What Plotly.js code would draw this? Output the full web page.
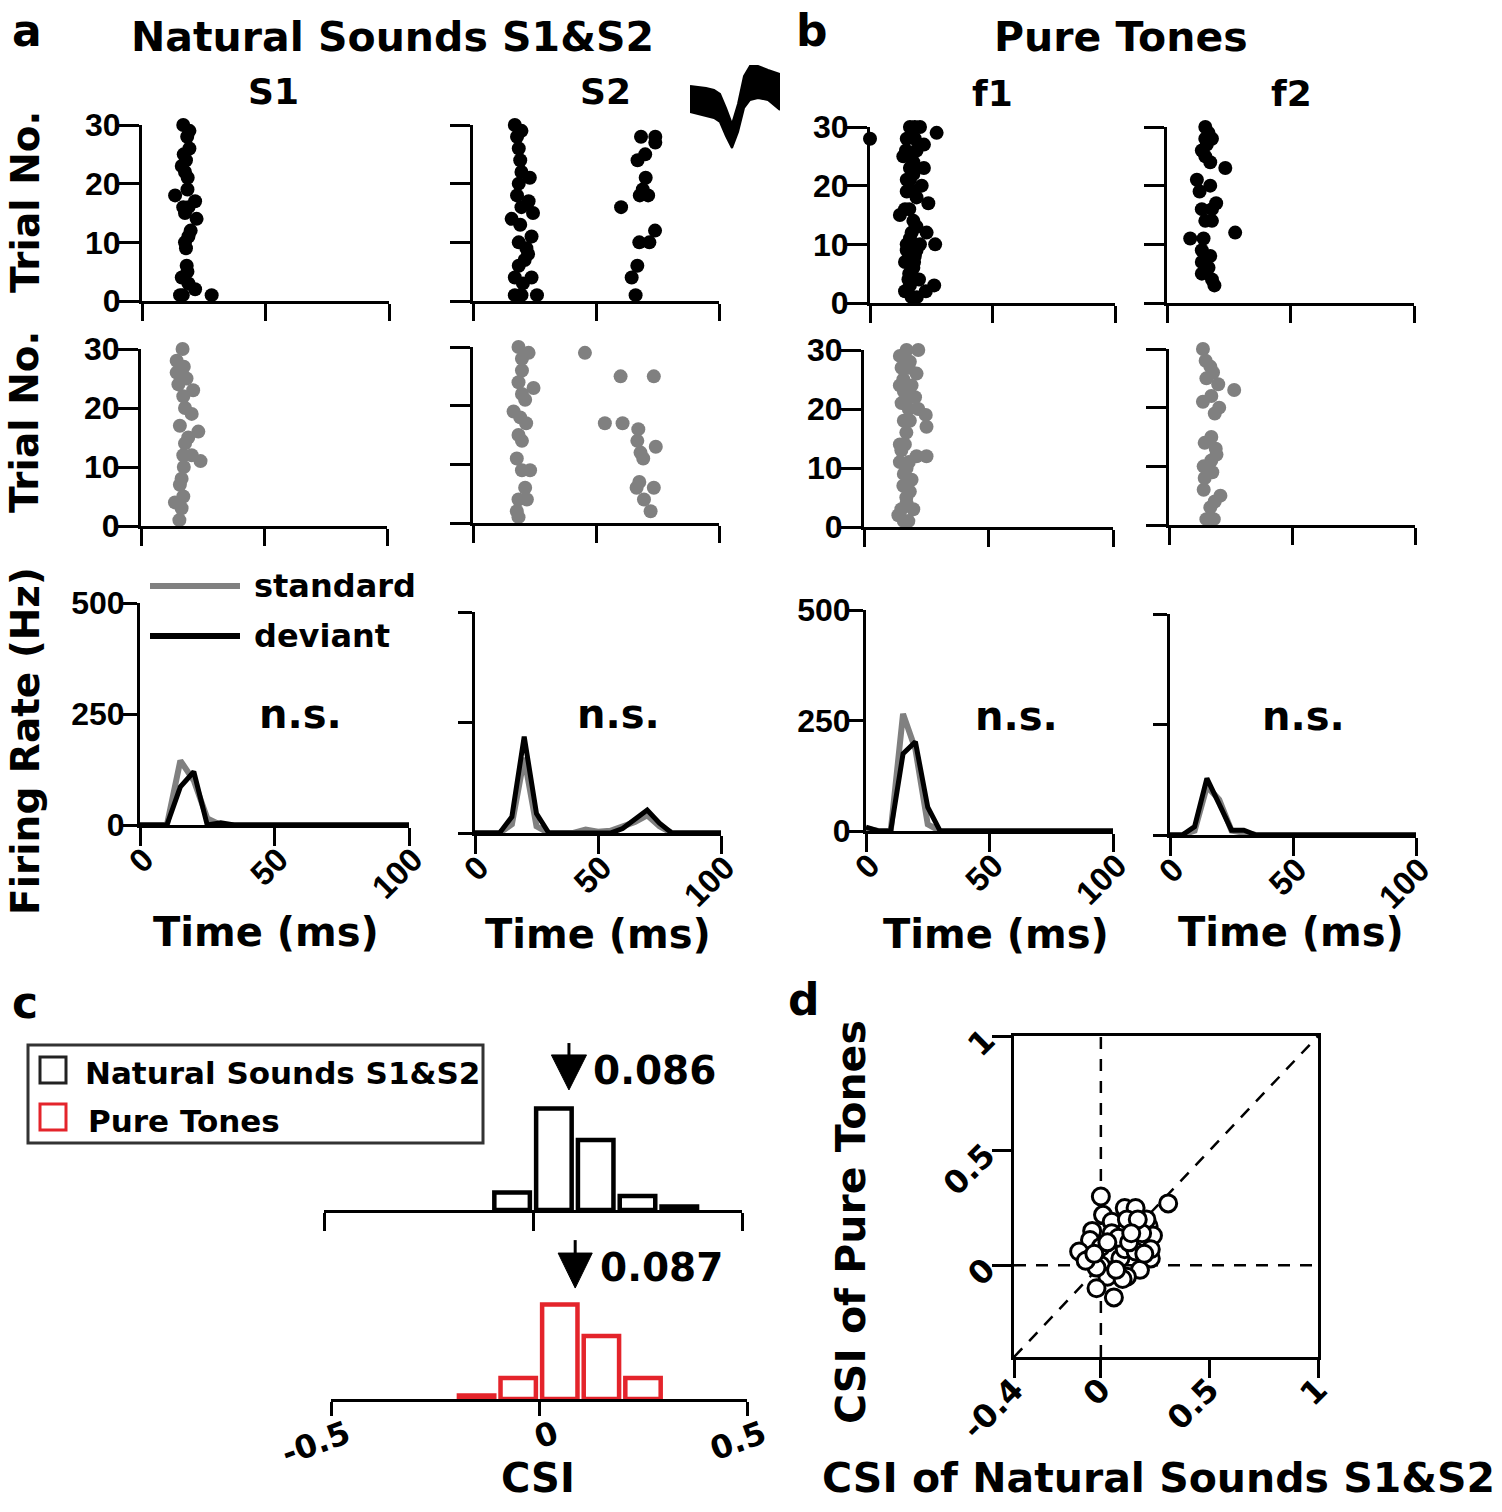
<!DOCTYPE html>
<html><head><meta charset="utf-8">
<script src="https://cdn.plot.ly/plotly-3.0.1.min.js"></script>
<style>html,body{margin:0;padding:0;background:#fff;}#chart{width:1502px;height:1512px;}</style>
</head><body><div id="chart"></div>
<script>
// ---------------- DATA ----------------
// Raster: spike times (ms) and trial numbers. Deviant (black) rows and standard (gray) rows.
const s1DevTime  = [16.7,19.2,18.3,19.2,16.9,17.8,16.1,17.4,18.5,18.4,13.4,21.5,16.7,18.8,17.4,22.1,19.7,18.8,17.4,17.8,18.1,18.4,16.1,18.8,21.5,16.5,28.2,15.4];
const s1DevTrial = [30,29,28,26,25,24,23,22,21,19,18,17,16,16,15,14,12,11,10,9,6,5,4,3,2,1,1,1];
const s2DevTime  = [17,19.7,17.9,18.6,19.2,19.7,23.1,18.6,17.9,22.6,19.7,24.4,15.7,19.2,23.8,18.6,21.7,22.4,18.6,21,17,23.8,20.3,17,19.7,26,68.3,74.1,74.1,70,66.9,70.2,69,67.8,71.2,60.2,74,67.6,71.7,66.8,64.5,66.1];
const s2DevTrial = [30,29,28,26,24,22,21,20,18,17,16,15,14,13,11,10,9,8,6,7,4,4,3,1,1,1,28,28,27,25,24,21,19,18,18,16,12,10,10,6,4,1];
const f1DevTime  = [0,16.3,20.4,18.3,27.2,15,18.3,22,14.7,16.3,13.6,17.7,22,16.3,17.7,21.1,16.3,15,23.8,19,14.3,12.2,17.7,23.1,16.3,26.6,20.4,15,18.3,14.3,17.7,15.7,26.2,22.8,14.3,19.1,16.3,19,17,19,15,18,16,19,17,15,18,16,20,17];
const f1DevTrial = [28,30,30,30,29,28,28,27,26,25,25,24,23,23,22,20,21,19,17,18,16,15,14,12,11,10,10,9,8,7,6,4,3,2,2,1,3,9,29,26,21,19,16,13,12,10,7,5,4,1];
const f2DevTime  = [15.5,16.8,15.5,18.2,16.1,14.1,15.5,17.5,23.6,12.1,17.5,13.2,19.9,14.1,18.2,15.5,18.2,9.4,14.8,27.6,14.1,17.5,14.1,16.8,14.1,18.2,19.2];
const f2DevTrial = [30,29,28,28,27,26,25,24,23,21,20,19,17,16,16,14,14,11,11,12,9,8,7,6,5,4,3];
const s1StdTime  = [16.9,14.5,17.4,14.5,18.5,15.2,21.2,17.2,17.9,20.6,15.8,23.3,19.2,17.9,17.2,20.6,24.2,17.4,16.5,15.8,17.2,13.8,16.5,15.6];
const s1StdTrial = [30,28,27,26,25,24,23,22,20,19,17,16,15,14,12,12,11,10,8,7,5,4,3,1];
const s2StdTime  = [18.5,22.6,19.9,19.9,18.5,24.6,19.9,21.2,16.5,19.2,21.6,18.5,19.9,17.8,23.2,19.9,21.2,18.5,21.9,17.8,18.5,45.5,60,73.5,53.6,60.8,67.2,66.8,74.3,68.1,69.2,67.6,66.5,73.5,69.5,72.2];
const s2StdTrial = [30,29,28,26,24,23,22,21,19,18,17,15,14,11,9,9,6,4,4,2,1,29,25,25,17,17,16,14,13,12,11,7,6,6,4,2];
const f1StdTime  = [14.4,17.1,21.8,18.4,15.1,21.1,15.8,19.1,14.4,17.8,20.5,15.1,21.8,24.8,25.1,18.4,16.4,14.4,25.1,21.1,14.4,17.1,19.1,15.8,18.4,17.1,19.8,13.8,17.8,16,18,16,18,16,17,15,18,16,17,15,16];
const f1StdTrial = [29,30,30,28,27,26,25,24,24,22,22,21,20,19,17,18,14,14,12,12,11,10,8,7,6,4,3,2,1,29,27,23,20,18,16,13,11,9,5,3,1];
const f2StdTime  = [13.8,14.9,16.8,17.9,15.2,20,26.5,17.2,13.8,20.4,18.6,17.2,14.5,19,19.3,17.2,14.1,17.6,14.5,14.1,20.9,18.6,16.8,15.2,18.2];
const f2StdTrial = [30,28,27,26,25,24,23,22,21,20,19,15,14,13,12,11,10,9,8,6,5,4,3,1,1];
const rasterXTicks = [0,50,100];
const rasterYTicks = [0,10,20,30];

// Firing rate (Hz) per 5-ms bin
const binTime   = [0,5,10,15,20,25,30,35,40,45,50,55,60,65,70,75,80,85,90,95,100];
const s1DevRate = [0,0,0,86,120,0,5,0,0,0,0,0,0,0,0,0,0,0,0,0,0];
const s1StdRate = [0,0,0,145,100,15,0,0,0,0,0,0,0,0,0,0,0,0,0,0,0];
const s2DevRate = [0,0,0,37,218,44,0,0,0,0,0,0,10,30,52,22,0,0,0,0,0];
const s2StdRate = [0,0,0,20,170,15,0,0,0,8,3,5,15,25,40,15,0,0,0,0,0];
const f1DevRate = [9,0,0,175,202,54,0,0,0,0,0,0,0,0,0,0,0,0,0,0,0];
const f1StdRate = [5,0,0,265,185,15,0,0,0,0,0,0,0,0,0,0,0,0,0,0,0];
const f2DevRate = [0,0,19,128,70,11,11,0,0,0,0,0,0,0,0,0,0,0,0,0,0];
const f2StdRate = [0,0,10,110,80,10,5,0,0,0,0,0,0,0,0,0,0,0,0,0,0];
const rateXTicks = [0,50,100];
const rateYTicks = [0,250,500];

// CSI histograms
const natBins    = [-0.05,0.05,0.15,0.25,0.35];
const natCounts  = [5,29,20,4,1];
const pureBins   = [-0.15,-0.05,0.05,0.15,0.25];
const pureCounts = [1,6,27,18,6];
const natMedian  = 0.086;
const pureMedian = 0.087;
const csiTicks   = [-0.5,0,0.5];
const csiTickText = ['-0.5','0','0.5'];

// CSI scatter
const csiNat  = [0.00,0.31,0.11,0.16,0.01,0.05,0.15,0.22,-0.04,0.05,0.24,-0.05,0.18,-0.10,0.04,0.09,0.23,-0.05,0.00,0.18,0.12,0.03,-0.02,0.06,0.23,0.11,0.16,-0.02,0.10,0.21,0.19,0.00,0.08,0.13,0.03,0.20,-0.07,0.12,0.07,0.17,-0.03,0.14];
const csiPure = [0.30,0.27,0.25,0.25,0.22,0.19,0.17,0.17,0.15,0.14,0.13,0.11,0.11,0.06,0.05,0.03,0.03,0.03,0.00,-0.02,-0.05,-0.05,-0.10,-0.14,0.07,0.07,0.06,-0.01,-0.06,0.20,0.14,0.08,0.12,0.10,0.10,0.05,0.02,0.20,-0.02,0.20,0.05,0.14];
const scatterXTicks = [-0.4,0,0.5,1];
const scatterXText  = ['-0.4','0','0.5','1'];
const scatterYTicks = [0,0.5,1];
const scatterYText  = ['0','0.5','1'];

// Spike waveform envelope (arbitrary units)
const wfSample = [0,8,16,24,30,36,42,48,54,60,68,78,90];
const wfHigh   = [20,19,18,16,12,-2,-18,2,30,40,40,36,32];
const wfLow    = [-6,-8,-10,-12,-16,-30,-42,-26,-2,6,8,6,-4];

// ---------------- LAYOUT HELPERS ----------------
const W = 1502, H = 1512;
const X = p => p / W;
const Y = p => 1 - p / H;
const FONT = 'DejaVu Sans, Arial, sans-serif';
const NUMFONT = 'Liberation Sans, Arial, sans-serif';
const f = (size, color) => ({family: FONT, size: size, color: color || '#000', weight: 'bold'});
const fn = (size) => ({family: NUMFONT, size: size, color: '#000', weight: 'bold'});
const GRAY = '#808080';
const RED = '#e4242b';

const traces = [];
const layout = {
  width: W, height: H, margin: {l:0, r:0, t:0, b:0},
  paper_bgcolor: '#fff', plot_bgcolor: 'rgba(0,0,0,0)',
  showlegend: false, hovermode: false, font: f(30),
  shapes: [], annotations: []
};

function baseAxis() {
  return {showline:true, linewidth:3, linecolor:'#000', ticks:'outside', tickwidth:3, tickcolor:'#000',
          showgrid:false, zeroline:false, fixedrange:true, tickfont:fn(32), tickmode:'array'};
}
function addAxes(n, xd, yd, xr, yr, xo, yo) {
  const k = n === 1 ? '' : String(n);
  layout['xaxis'+k] = Object.assign(baseAxis(), {domain:[X(xd[0]), X(xd[1])], range:xr, anchor:'y'+k}, xo);
  layout['yaxis'+k] = Object.assign(baseAxis(), {domain:[Y(yd[1]), Y(yd[0])], range:yr, anchor:'x'+k}, yo);
  return {xaxis:'x'+k, yaxis:'y'+k};
}
function txt(text, px, py, size, opts) {
  return Object.assign({text:text, x:X(px), y:Y(py), xref:'paper', yref:'paper', showarrow:false,
                        font:f(size), xanchor:'center', yanchor:'middle'}, opts || {});
}

// ---------------- RASTERS ----------------
const rasterPanels = [
  {n:1, x:[142,389], y:[125,301], t:s1DevTime, tr:s1DevTrial, c:'#000', lab:true},
  {n:2, x:[473,719], y:[125,301], t:s2DevTime, tr:s2DevTrial, c:'#000', lab:false},
  {n:3, x:[870,1115], y:[127,303], t:f1DevTime, tr:f1DevTrial, c:'#000', lab:true},
  {n:4, x:[1167,1414], y:[127,303], t:f2DevTime, tr:f2DevTrial, c:'#000', lab:false},
  {n:5, x:[141,387], y:[349,526], t:s1StdTime, tr:s1StdTrial, c:GRAY, lab:true},
  {n:6, x:[473,719], y:[347,523], t:s2StdTime, tr:s2StdTrial, c:GRAY, lab:false},
  {n:7, x:[864,1113], y:[350,527], t:f1StdTime, tr:f1StdTrial, c:GRAY, lab:true},
  {n:8, x:[1169,1415], y:[349,525], t:f2StdTime, tr:f2StdTrial, c:GRAY, lab:false}
];
rasterPanels.forEach(p => {
  const ids = addAxes(p.n, p.x, p.y, [0,100], [0,30],
    {tickvals:rasterXTicks, showticklabels:false, ticklen:17},
    {tickvals:rasterYTicks, showticklabels:p.lab, ticklen:20, ticklabelstandoff:-8});
  traces.push(Object.assign({type:'scatter', mode:'markers', x:p.t, y:p.tr, cliponaxis:false,
    marker:{size:14, color:p.c}, hoverinfo:'skip'}, ids));
});

// ---------------- FIRING RATES ----------------
const frPanels = [
  {n:9,  x:[140,409],  y:[603,825], dev:s1DevRate, std:s1StdRate, lab:true},
  {n:10, x:[475,721],  y:[612,833], dev:s2DevRate, std:s2StdRate, lab:false},
  {n:11, x:[866,1113], y:[610,831], dev:f1DevRate, std:f1StdRate, lab:true},
  {n:12, x:[1170,1416],y:[614,835], dev:f2DevRate, std:f2StdRate, lab:false}
];
frPanels.forEach(p => {
  const ids = addAxes(p.n, p.x, p.y, [0,100], [0,500],
    {tickvals:rateXTicks, ticktext:rateXTicks.map(String), tickangle:-45, ticklen:18, ticklabelshift:4, ticklabelstandoff:-19, tickfont:fn(33)},
    {tickvals:rateYTicks, showticklabels:p.lab, ticklen:14, ticklabelstandoff:-8});
  traces.push(Object.assign({type:'scatter', mode:'lines', x:binTime, y:p.std, line:{color:GRAY, width:6}, hoverinfo:'skip'}, ids));
  traces.push(Object.assign({type:'scatter', mode:'lines', x:binTime, y:p.dev, line:{color:'#000', width:5}, hoverinfo:'skip'}, ids));
});

// ---------------- HISTOGRAMS ----------------
const h1 = addAxes(13, [324,742], [1035,1210], [-0.5,0.5], [0,50],
  {tickvals:csiTicks, showticklabels:false, ticklen:18}, {visible:false});
traces.push(Object.assign({type:'bar', x:natBins, y:natCounts, width:0.085, cliponaxis:false,
  marker:{color:'#fff', line:{color:'#000', width:4.5}}, hoverinfo:'skip'}, h1));
const h2 = addAxes(14, [331,747], [1224,1399], [-0.5,0.5], [0,50],
  {tickvals:csiTicks, ticktext:csiTickText, tickangle:-20, ticklen:14, ticklabelshift:16, ticklabelstandoff:-12, tickfont:f(32)}, {visible:false});
traces.push(Object.assign({type:'bar', x:pureBins, y:pureCounts, width:0.085, cliponaxis:false,
  marker:{color:'#fff', line:{color:RED, width:4.5}}, hoverinfo:'skip'}, h2));

function arrow(n, med, stemTop, stemBot, triTop, triTip, halfW) {
  const xr = 'x'+n, yr = 'y'+n;
  layout.shapes.push({type:'line', xref:xr, yref:yr, x0:med, x1:med, y0:stemTop, y1:stemBot, line:{color:'#000', width:3}});
  layout.shapes.push({type:'path', xref:xr, yref:yr,
    path:'M '+(med-halfW)+','+triTop+' L '+(med+halfW)+','+triTop+' L '+med+','+triTip+' Z',
    fillcolor:'#000', line:{color:'#000', width:1}});
}
arrow(13, natMedian, 47.7, 43, 44.3, 34.3, 0.042);
arrow(14, pureMedian, 45.4, 41, 41.7, 31.7, 0.041);
layout.annotations.push({text:natMedian.toFixed(3), x:natMedian, xref:'x13', y:Y(1070), yref:'paper',
  xshift:22, showarrow:false, xanchor:'left', yanchor:'middle', font:f(39)});
layout.annotations.push({text:pureMedian.toFixed(3), x:pureMedian, xref:'x14', y:Y(1267), yref:'paper',
  xshift:23, showarrow:false, xanchor:'left', yanchor:'middle', font:f(39)});

// ---------------- SCATTER ----------------
const sc = addAxes(15, [1014,1318], [1036,1357], [-0.4,1], [-0.4,1],
  {tickvals:scatterXTicks, ticktext:scatterXText, tickangle:-45, ticklen:18, mirror:true, ticklabelstandoff:-20, tickfont:f(32)},
  {tickvals:scatterYTicks, ticktext:scatterYText, tickangle:-45, ticklen:19, mirror:true, tickfont:f(32)});
[[0,-0.4,0,1],[-0.4,0,1,0],[-0.4,-0.4,1,1]].forEach(s => {
  layout.shapes.push({type:'line', xref:'x15', yref:'y15', x0:s[0], y0:s[1], x1:s[2], y1:s[3], layer:'below',
    line:{color:'#000', width:2.5, dash:'12px,10px'}});
});
traces.push(Object.assign({type:'scatter', mode:'markers', x:csiNat, y:csiPure, cliponaxis:false,
  marker:{symbol:'circle', size:17, color:'#fff', line:{color:'#000', width:3}}, hoverinfo:'skip'}, sc));

// ---------------- WAVEFORM ICON ----------------
const wf = addAxes(16, [690,780], [62,150], [0,90], [-44,44], {visible:false}, {visible:false});
traces.push(Object.assign({type:'scatter', mode:'lines', x:wfSample, y:wfLow, line:{color:'#000', width:2}, hoverinfo:'skip'}, wf));
traces.push(Object.assign({type:'scatter', mode:'lines', x:wfSample, y:wfHigh, fill:'tonexty', fillcolor:'#000', line:{color:'#000', width:2}, hoverinfo:'skip'}, wf));

// ---------------- LEGENDS (drawn keys) ----------------
layout.shapes.push({type:'line', xref:'paper', yref:'paper', x0:X(150), x1:X(240), y0:Y(586), y1:Y(586), line:{color:GRAY, width:6}});
layout.shapes.push({type:'line', xref:'paper', yref:'paper', x0:X(150), x1:X(240), y0:Y(636), y1:Y(636), line:{color:'#000', width:6}});
layout.shapes.push({type:'rect', xref:'paper', yref:'paper', x0:X(28), x1:X(483), y0:Y(1143), y1:Y(1045), line:{color:'#333', width:3}});
layout.shapes.push({type:'rect', xref:'paper', yref:'paper', x0:X(40), x1:X(66), y0:Y(1083), y1:Y(1057), line:{color:'#222', width:3}});
layout.shapes.push({type:'rect', xref:'paper', yref:'paper', x0:X(40), x1:X(66), y0:Y(1130), y1:Y(1104), line:{color:RED, width:3}});

// ---------------- TEXT ----------------
const A = layout.annotations;
A.push(txt('a', 27, 31, 44));
A.push(txt('b', 812, 30, 44));
A.push(txt('c', 25, 1002, 44));
A.push(txt('d', 804, 999, 44));
A.push(txt('Natural Sounds S1&S2', 392, 37, 41));
A.push(txt('Pure Tones', 1121, 37, 41));
A.push(txt('S1', 273, 92, 36));
A.push(txt('S2', 605, 92, 36));
A.push(txt('f1', 993, 93, 36));
A.push(txt('f2', 1291, 93, 36));
A.push(txt('Trial No.', 25, 202, 39, {textangle:-90}));
A.push(txt('Trial No.', 25, 422, 39, {textangle:-90}));
A.push(txt('Firing Rate (Hz)', 25, 741, 39, {textangle:-90}));
A.push(txt('standard', 252, 586, 32, {xanchor:'left'}));
A.push(txt('deviant', 252, 636, 32, {xanchor:'left'}));
[[300,714],[618,714],[1017,716],[1303,716]].forEach(p => A.push(txt('n.s.', p[0], p[1], 40)));
[[266,932],[598,934],[996,934],[1291,932]].forEach(p => A.push(txt('Time (ms)', p[0], p[1], 40)));
A.push(txt('Natural Sounds S1&S2', 83, 1073, 31, {xanchor:'left'}));
A.push(txt('Pure Tones', 86, 1121, 31, {xanchor:'left'}));
A.push(txt('CSI', 538, 1478, 40));
A.push(txt('CSI of Natural Sounds S1&S2', 1158, 1478, 41));
A.push(txt('CSI of Pure Tones', 851, 1222, 41, {textangle:-90}));

Plotly.newPlot('chart', traces, layout, {staticPlot:true, displayModeBar:false});
</script></body></html>
